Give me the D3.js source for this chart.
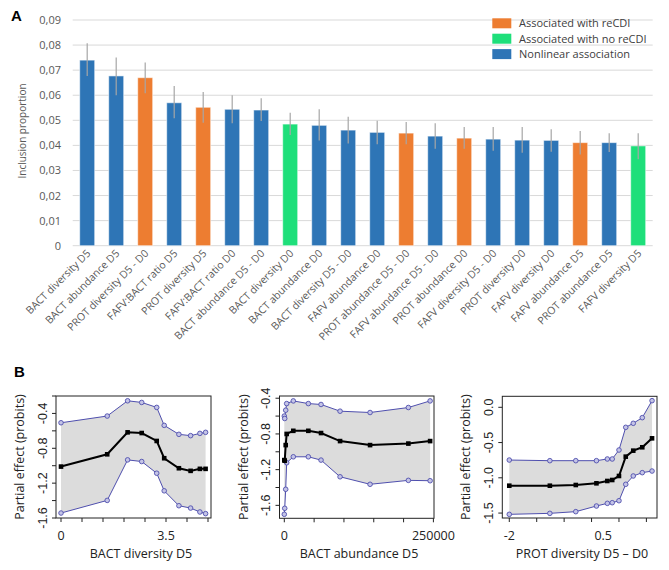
<!DOCTYPE html>
<html>
<head>
<meta charset="utf-8">
<script src="https://cdn.jsdelivr.net/npm/d3@7"></script>
<style>
  body { margin: 0; background: #fff; }
  svg { display: block; }
</style>
</head>
<body>
<svg id="chart" width="669" height="570"></svg>
<script>
// ---- panel A data ----
var categories = ["BACT diversity D5", "BACT abundance D5", "PROT diversity D5 - D0", "FAFV:BACT ratio D5",
    "PROT diversity D5", "FAFV:BACT ratio D0", "BACT abundance D5 - D0", "BACT diversity D0",
    "BACT abundance D0", "BACT diversity D5 - D0", "FAFV abundance D0", "PROT abundance D5 - D0",
    "FAFV abundance D5 - D0", "PROT abundance D0", "FAFV diversity D5 - D0", "PROT diversity D0",
    "FAFV diversity D0", "FAFV abundance D5", "PROT abundance D5", "FAFV diversity D5"];
var groups = ["non", "non", "re", "non", "re", "non", "non", "nore", "non", "non",
    "non", "re", "non", "re", "non", "non", "non", "re", "non", "nore"];
var inclusion = [0.0740, 0.0677, 0.0670, 0.0570, 0.0552, 0.0544, 0.0541, 0.0485, 0.0480, 0.0461,
    0.0452, 0.0449, 0.0437, 0.0429, 0.0425, 0.0421, 0.0420, 0.0411, 0.0411, 0.0398];
var errHigh = [0.0807, 0.0750, 0.0731, 0.0637, 0.0613, 0.0600, 0.0588, 0.0530, 0.0544, 0.0514,
    0.0498, 0.0493, 0.0488, 0.0473, 0.0473, 0.0473, 0.0464, 0.0457, 0.0448, 0.0448];
var errLow = [0.0677, 0.0600, 0.0608, 0.0508, 0.0490, 0.0488, 0.0497, 0.0441, 0.0419, 0.0408,
    0.0405, 0.0405, 0.0387, 0.0387, 0.0379, 0.0371, 0.0375, 0.0364, 0.0374, 0.0345];
var yTicksA = [0, 0.01, 0.02, 0.03, 0.04, 0.05, 0.06, 0.07, 0.08, 0.09];
var legendKeys = ["re", "nore", "non"];
var legendLabels = ["Associated with reCDI", "Associated with no reCDI", "Nonlinear association"];

// ---- panel B data ----
var bactDivX = [0, 1.54, 2.22, 2.69, 3.19, 3.44, 3.93, 4.32, 4.63, 4.82];
var bactDivMid = [-1.010, -0.869, -0.617, -0.625, -0.716, -0.914, -1.029, -1.059, -1.036, -1.036];
var bactDivUp = [-0.507, -0.430, -0.255, -0.274, -0.331, -0.537, -0.640, -0.655, -0.629, -0.617];
var bactDivLo = [-1.543, -1.398, -0.933, -0.952, -1.086, -1.288, -1.459, -1.486, -1.531, -1.550];

var bactAbX = [0, 700, 2350, 4000, 15100, 40300, 61600, 93500, 143800, 208000, 244500];
var bactAbMid = [-1.093, -1.100, -0.925, -0.800, -0.765, -0.765, -0.790, -0.880, -0.925, -0.908, -0.880];
var bactAbUp = [-0.600, -0.627, -0.534, -0.460, -0.430, -0.460, -0.470, -0.545, -0.560, -0.504, -0.430];
var bactAbLo = [-1.700, -1.633, -1.420, -1.123, -1.056, -1.056, -1.093, -1.280, -1.364, -1.320, -1.324];

var protDivX = [-2, -0.92, -0.23, 0.32, 0.61, 0.74, 0.92, 1.10, 1.30, 1.54, 1.80];
var protDivMid = [-1.112, -1.112, -1.102, -1.078, -1.045, -1.031, -0.974, -0.700, -0.615, -0.567, -0.440];
var protDivUp = [-0.748, -0.757, -0.757, -0.757, -0.733, -0.733, -0.606, -0.284, -0.227, -0.147, 0.094];
var protDivLo = [-1.518, -1.504, -1.480, -1.400, -1.362, -1.353, -1.325, -1.092, -0.974, -0.927, -0.904];

var colors = { re: "#ED7D31", nore: "#1EDF7A", non: "#2E75B6" };
var excelFont = "'Open Sans', 'Noto Sans', sans-serif";
var rFont = "'Liberation Sans', Arial, sans-serif";

var svg = d3.select("#chart");

// ================= panel A =================
var yA = d3.scaleLinear().domain([0, 0.09]).range([245.7, 20]);
var xA = d3.scaleBand().domain(categories).range([72.7, 652.7])
    .paddingInner(0.483).paddingOuter(0.2415);

var commaFmt = function(v) { return v === 0 ? "0" : d3.format(".2f")(v).replace(".", ","); };

var gA = svg.append("g");

gA.selectAll(".grid").data(yTicksA).enter().append("line")
    .attr("x1", 72.7).attr("x2", 652.7)
    .attr("y1", function(d) { return yA(d); })
    .attr("y2", function(d) { return yA(d); })
    .attr("stroke", "#D9D9D9").attr("stroke-width", 1);

gA.selectAll(".ylab").data(yTicksA).enter().append("text")
    .attr("x", 61).attr("y", function(d) { return yA(d) + 4; })
    .attr("text-anchor", "end")
    .style("font-family", excelFont).style("font-size", "11px").style("fill", "#595959")
    .text(commaFmt);

gA.selectAll(".bar").data(categories).enter().append("rect")
    .attr("x", function(d) { return xA(d); })
    .attr("width", xA.bandwidth())
    .attr("y", function(d, i) { return yA(inclusion[i]); })
    .attr("height", function(d, i) { return yA(0) - yA(inclusion[i]); })
    .attr("fill", function(d, i) { return colors[groups[i]]; })
    .attr("stroke", "#ffffff").attr("stroke-opacity", 0.55).attr("stroke-width", 1);

gA.selectAll(".err").data(categories).enter().append("line")
    .attr("x1", function(d) { return xA(d) + xA.bandwidth() / 2; })
    .attr("x2", function(d) { return xA(d) + xA.bandwidth() / 2; })
    .attr("y1", function(d, i) { return yA(errLow[i]); })
    .attr("y2", function(d, i) { return yA(errHigh[i]); })
    .attr("stroke", "#A6A6A6").attr("stroke-width", 1.2);

gA.selectAll(".xlab").data(categories).enter().append("text")
    .attr("transform", function(d) {
        return "translate(" + (xA(d) + xA.bandwidth() / 2 + 4) + ",254) rotate(-45)";
    })
    .attr("text-anchor", "end")
    .style("font-family", excelFont).style("font-size", "10.5px").style("fill", "#595959")
    .text(function(d) { return d; });

svg.append("text")
    .attr("transform", "translate(26,131) rotate(-90)")
    .attr("text-anchor", "middle")
    .style("font-family", excelFont).style("font-size", "10px").style("fill", "#595959")
    .text("Inclusion proportion");

var legend = svg.append("g");
legendKeys.forEach(function(k, i) {
    legend.append("rect")
        .attr("x", 492.3).attr("y", 18.3 + i * 15.4).attr("width", 19).attr("height", 10)
        .attr("fill", colors[k]);
    legend.append("text")
        .attr("x", 519).attr("y", 27.3 + i * 15.4)
        .style("font-family", excelFont).style("font-size", "11px").style("fill", "#404040")
        .text(legendLabels[i]);
});

svg.append("text").attr("x", 11).attr("y", 21)
    .style("font-family", rFont).style("font-size", "15px").style("font-weight", "bold")
    .text("A");
svg.append("text").attr("x", 14).attr("y", 377)
    .style("font-family", rFont).style("font-size", "15px").style("font-weight", "bold")
    .text("B");

// ================= panel B =================
var panels = [
    { x: bactDivX, mid: bactDivMid, up: bactDivUp, lo: bactDivLo,
      box: [56, 211, 396, 518], xDom: [-0.167, 5.0], yDom: [-1.6, -0.2],
      xTicks: [0, 0.7, 1.4, 2.1, 2.8, 3.5, 4.2, 4.9], xLabels: [[0, "0"], [3.5, "3.5"]],
      yTicks: [-0.2, -0.4, -0.6, -0.8, -1.0, -1.2, -1.4, -1.6],
      yLabels: [[-0.4, "-0.4"], [-0.8, "-0.8"], [-1.2, "-1.2"], [-1.6, "-1.6"]],
      title: "BACT diversity D5", titleX: 141 },
    { x: bactAbX, mid: bactAbMid, up: bactAbUp, lo: bactAbLo,
      box: [279.5, 434, 396, 518.3], xDom: [-8050, 251000], yDom: [-1.745, -0.375],
      xTicks: [0, 50000, 100000, 150000, 200000, 250000], xLabels: [[0, "0"], [250000, "250000"]],
      yTicks: [-0.4, -0.6, -0.8, -1.0, -1.2, -1.4, -1.6],
      yLabels: [[-0.4, "-0.4"], [-0.8, "-0.8"], [-1.2, "-1.2"], [-1.6, "-1.6"]],
      title: "BACT abundance D5", titleX: 359 },
    { x: protDivX, mid: protDivMid, up: protDivUp, lo: protDivLo,
      box: [502.3, 657, 396.3, 518], xDom: [-2.186, 1.932], yDom: [-1.57, 0.156],
      xTicks: [-2, -1.27, -0.54, 0.19, 0.92, 1.65], xLabels: [[-2, "-2"], [0.5, "0.5"]],
      yTicks: [0, -0.5, -1.0, -1.5],
      yLabels: [[0, "0.0"], [-0.5, "-0.5"], [-1.0, "-1.0"], [-1.5, "-1.5"]],
      title: "PROT diversity D5 \u2013 D0", titleX: 582 }
];

panels.forEach(function(p) {
    var b = p.box;
    var x = d3.scaleLinear().domain(p.xDom).range([b[0], b[1]]);
    var y = d3.scaleLinear().domain(p.yDom).range([b[3], b[2]]);
    var g = svg.append("g");
    var idx = d3.range(p.x.length);

    // confidence band
    g.append("path")
        .attr("d", d3.area()
            .x(function(i) { return x(p.x[i]); })
            .y0(function(i) { return y(p.lo[i]); })
            .y1(function(i) { return y(p.up[i]); })(idx))
        .attr("fill", "#DCDCDC");

    [p.up, p.lo].forEach(function(s) {
        g.append("path")
            .attr("d", d3.line()
                .x(function(i) { return x(p.x[i]); })
                .y(function(i) { return y(s[i]); })(idx))
            .attr("fill", "none").attr("stroke", "#4F4FAE").attr("stroke-width", 1);
        g.selectAll(null).data(idx).enter().append("circle")
            .attr("cx", function(i) { return x(p.x[i]); })
            .attr("cy", function(i) { return y(s[i]); })
            .attr("r", 2.3)
            .attr("fill", "#C4C4E6").attr("stroke", "#4F4FAE").attr("stroke-width", 0.9);
    });

    g.append("path")
        .attr("d", d3.line()
            .x(function(i) { return x(p.x[i]); })
            .y(function(i) { return y(p.mid[i]); })(idx))
        .attr("fill", "none").attr("stroke", "#000").attr("stroke-width", 2);
    g.selectAll(null).data(idx).enter().append("rect")
        .attr("x", function(i) { return x(p.x[i]) - 2.3; })
        .attr("y", function(i) { return y(p.mid[i]) - 2.3; })
        .attr("width", 4.6).attr("height", 4.6)
        .attr("fill", "#000");

    // box
    g.append("rect")
        .attr("x", b[0]).attr("y", b[2])
        .attr("width", b[1] - b[0]).attr("height", b[3] - b[2])
        .attr("fill", "none").attr("stroke", "#222").attr("stroke-width", 1);

    // ticks
    g.selectAll(null).data(p.xTicks).enter().append("line")
        .attr("x1", function(d) { return x(d); }).attr("x2", function(d) { return x(d); })
        .attr("y1", b[3]).attr("y2", b[3] + 4)
        .attr("stroke", "#222");
    g.selectAll(null).data(p.yTicks).enter().append("line")
        .attr("y1", function(d) { return y(d); }).attr("y2", function(d) { return y(d); })
        .attr("x1", b[0]).attr("x2", b[0] - 4)
        .attr("stroke", "#222");

    g.selectAll(null).data(p.xLabels).enter().append("text")
        .attr("x", function(d) { return x(d[0]); }).attr("y", 540)
        .attr("text-anchor", "middle")
        .style("font-family", excelFont).style("font-size", "12.5px").style("fill", "#222")
        .text(function(d) { return d[1]; });
    g.selectAll(null).data(p.yLabels).enter().append("text")
        .attr("transform", function(d) {
            return "translate(" + (b[0] - 9.5) + "," + y(d[0]) + ") rotate(-90)";
        })
        .attr("text-anchor", "middle")
        .style("font-family", rFont).style("font-size", "12.5px").style("fill", "#222")
        .text(function(d) { return d[1]; });

    svg.append("text")
        .attr("x", p.titleX).attr("y", 558)
        .attr("text-anchor", "middle")
        .style("font-family", excelFont).style("font-size", "12.5px").style("fill", "#222")
        .text(p.title);
    svg.append("text")
        .attr("transform", "translate(" + (b[0] - 32) + "," + ((b[2] + b[3]) / 2) + ") rotate(-90)")
        .attr("text-anchor", "middle")
        .style("font-family", excelFont).style("font-size", "12.5px").style("fill", "#222")
        .text("Partial effect (probits)");
});
</script>
</body>
</html>
